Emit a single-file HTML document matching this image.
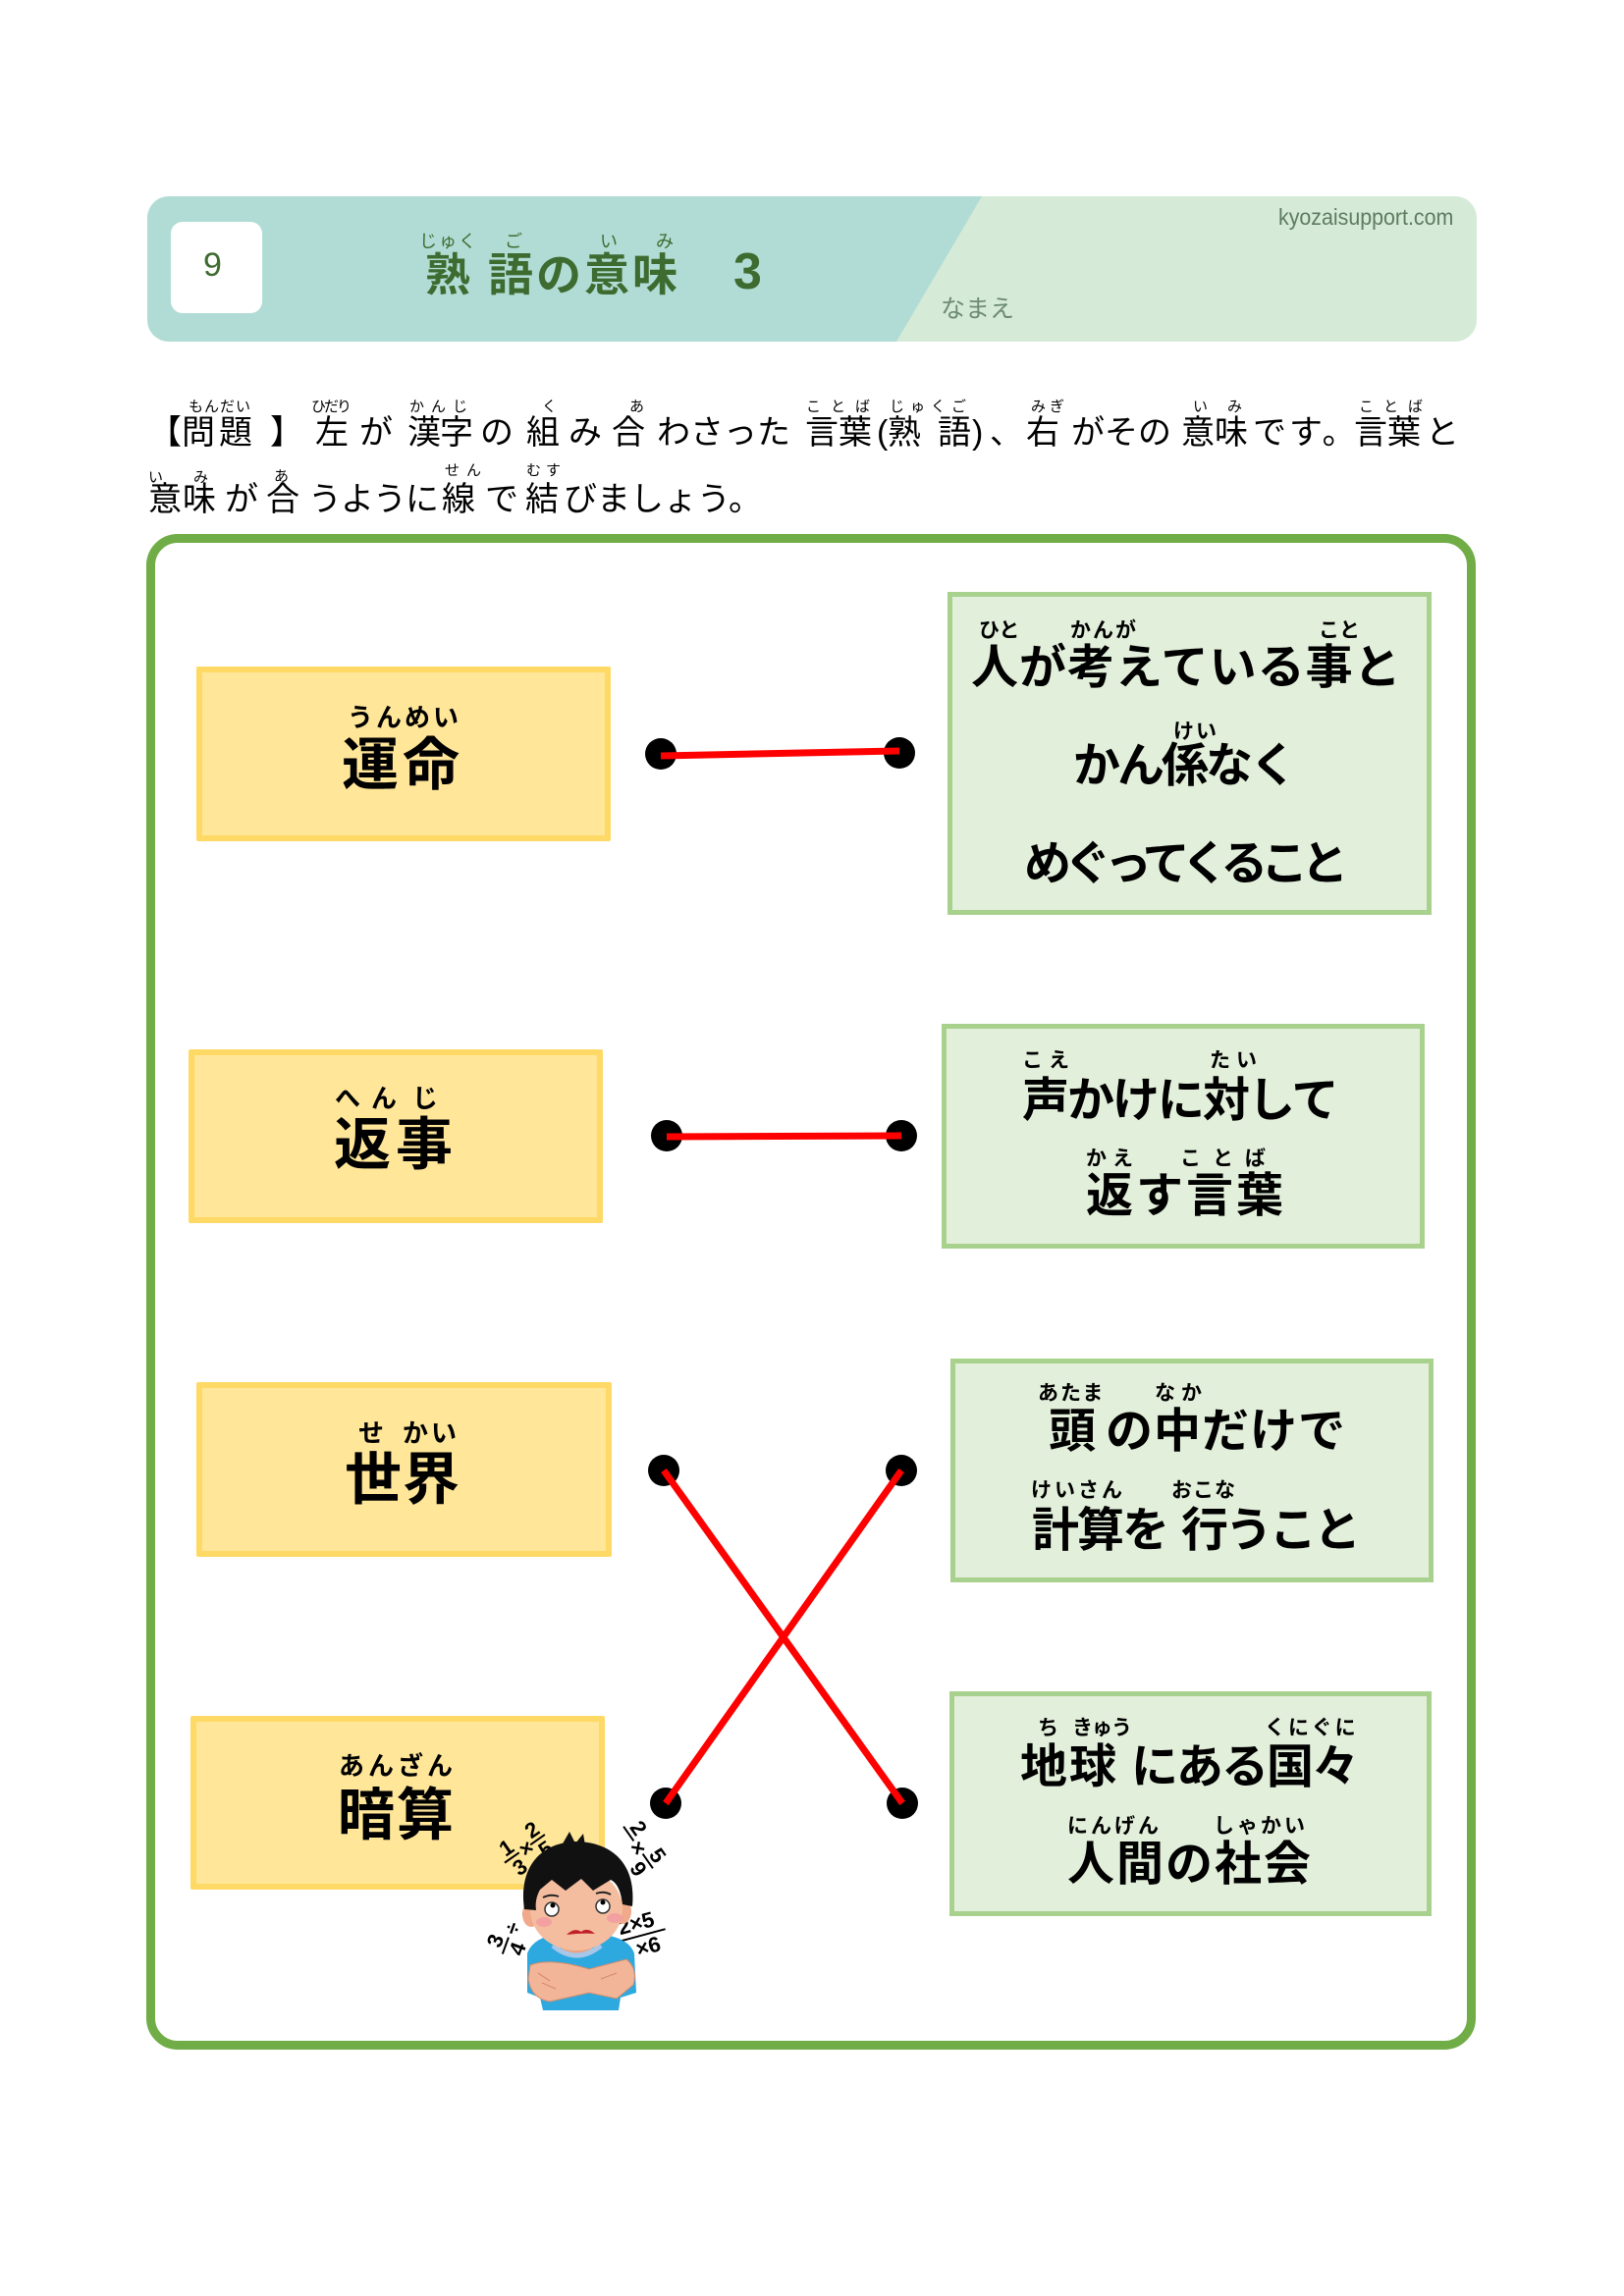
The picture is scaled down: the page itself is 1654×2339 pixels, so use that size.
<!DOCTYPE html>
<html><head><meta charset="utf-8">
<style>
body{margin:0;background:#fff}
#p{position:relative;width:1654px;height:2339px;overflow:hidden;background:#fff}
.a{position:absolute;line-height:1;white-space:nowrap;font-family:"Liberation Sans","Noto Sans CJK JP",sans-serif;color:#000}
.i{font-size:34px;font-weight:400}
.r{font-size:15px;font-weight:400}
.b{font-size:48px;font-weight:700}
.rb{font-size:21px;font-weight:700}
.L{font-size:58px;font-weight:700}
.Lr{font-size:26px;font-weight:700}
.g{color:#3e6b30}
.yb{position:absolute;box-sizing:border-box;background:#ffe699;border:6px solid #ffd966;border-radius:2px}
.gb{position:absolute;box-sizing:border-box;background:#e2efda;border:5px solid #a9d18e}
</style></head><body><div id="p">

<!-- header banner -->
<svg style="position:absolute;left:0;top:0" width="1654" height="400">
<defs><clipPath id="bc"><rect x="150" y="200" width="1354" height="148" rx="22" ry="22"/></clipPath></defs>
<g clip-path="url(#bc)">
<rect x="150" y="200" width="1354" height="148" fill="#d5ead7"/>
<polygon points="150,200 1000,200 913,348 150,348" fill="#b1dcd5"/>
</g>
<rect x="174" y="226" width="93" height="93" rx="12" ry="12" fill="#fff"/>
</svg>
<div class="a g" style="left:207px;top:253px;font-size:34px">9</div>
<div class="a g" style="left:427px;top:237px;font-size:18px;letter-spacing:2px">じゅく</div>
<div class="a g" style="left:514px;top:237px;font-size:18px">ご</div>
<div class="a g" style="left:611px;top:237px;font-size:18px">い</div>
<div class="a g" style="left:668px;top:237px;font-size:18px">み</div>
<div class="a g" style="left:433px;top:257px;font-size:46px;font-weight:700">熟</div>
<div class="a g" style="left:497px;top:257px;font-size:46px;font-weight:700;letter-spacing:3px">語の意味</div>
<div class="a g" style="left:747px;top:251px;font-size:52px;font-weight:700">3</div>
<div class="a" style="left:1302px;top:210px;font-size:23px;color:#5e7b62;transform:scaleX(0.93);transform-origin:left top">kyozaisupport.com</div>
<div class="a" style="left:958px;top:303px;font-size:25px;color:#6d8a75">なまえ</div>

<!-- instructions ruby line 1 -->
<div class="a r" style="left:192px;top:407px;letter-spacing:1px">もんだい</div>
<div class="a r" style="left:317px;top:407px;letter-spacing:-2px">ひだり</div>
<div class="a r" style="left:417px;top:407px;letter-spacing:7px">かんじ</div>
<div class="a r" style="left:552px;top:407px">く</div>
<div class="a r" style="left:641px;top:407px">あ</div>
<div class="a r" style="left:821px;top:407px;letter-spacing:10px">ことば</div>
<div class="a r" style="left:906px;top:407px;letter-spacing:6px">じゅくご</div>
<div class="a r" style="left:1050px;top:407px;letter-spacing:4px">みぎ</div>
<div class="a r" style="left:1215px;top:407px;letter-spacing:20px">いみ</div>
<div class="a r" style="left:1384px;top:407px;letter-spacing:10px">ことば</div>
<!-- instructions line 1 -->
<div class="a i" style="left:151px;top:424px">【</div>
<div class="a i" style="left:185px;top:424px;letter-spacing:4px">問題</div>
<div class="a i" style="left:275px;top:424px">】</div>
<div class="a i" style="left:321px;top:424px">左</div>
<div class="a i" style="left:366px;top:424px">が</div>
<div class="a i" style="left:415px;top:424px;letter-spacing:-1px">漢字</div>
<div class="a i" style="left:489px;top:424px">の</div>
<div class="a i" style="left:536px;top:424px">組</div>
<div class="a i" style="left:579px;top:424px">み</div>
<div class="a i" style="left:623px;top:424px">合</div>
<div class="a i" style="left:669px;top:424px">わさった</div>
<div class="a i" style="left:820px;top:424px">言葉</div>
<div class="a i" style="left:893px;top:424px">(</div>
<div class="a i" style="left:904px;top:424px">熟</div>
<div class="a i" style="left:955px;top:424px">語</div>
<div class="a i" style="left:990px;top:424px">)</div>
<div class="a i" style="left:1008px;top:424px">、</div>
<div class="a i" style="left:1045px;top:424px">右</div>
<div class="a i" style="left:1091px;top:424px">がその</div>
<div class="a i" style="left:1203px;top:424px">意味</div>
<div class="a i" style="left:1276px;top:424px;letter-spacing:3px">です。</div>
<div class="a i" style="left:1379px;top:424px">言葉</div>
<div class="a i" style="left:1452px;top:424px">と</div>
<!-- instructions ruby line 2 -->
<div class="a r" style="left:151px;top:479px">い</div>
<div class="a r" style="left:197px;top:479px">み</div>
<div class="a r" style="left:279px;top:478px">あ</div>
<div class="a r" style="left:453px;top:472px;letter-spacing:7px">せん</div>
<div class="a r" style="left:536px;top:472px;letter-spacing:5px">むす</div>
<!-- instructions line 2 -->
<div class="a i" style="left:151px;top:492px;letter-spacing:1px">意味</div>
<div class="a i" style="left:229px;top:492px">が</div>
<div class="a i" style="left:271px;top:492px">合</div>
<div class="a i" style="left:314px;top:492px;letter-spacing:-1px">うように</div>
<div class="a i" style="left:450px;top:492px">線</div>
<div class="a i" style="left:494px;top:492px">で</div>
<div class="a i" style="left:535px;top:492px">結</div>
<div class="a i" style="left:574px;top:492px">びましょう。</div>

<!-- outer frame -->
<div style="position:absolute;left:149px;top:544px;width:1354px;height:1544px;box-sizing:border-box;border:9px solid #70ad47;border-radius:32px"></div>

<!-- left yellow boxes -->
<div class="yb" style="left:200px;top:679px;width:422px;height:178px"></div>
<div class="yb" style="left:192px;top:1069px;width:422px;height:177px"></div>
<div class="yb" style="left:200px;top:1408px;width:423px;height:178px"></div>
<div class="yb" style="left:194px;top:1748px;width:422px;height:177px"></div>

<div class="a Lr" style="left:354px;top:718px;letter-spacing:3px">うんめい</div>
<div class="a L" style="left:348px;top:751px;letter-spacing:4px">運命</div>
<div class="a Lr" style="left:341px;top:1106px">へ</div>
<div class="a Lr" style="left:378px;top:1106px">ん</div>
<div class="a Lr" style="left:420px;top:1106px">じ</div>
<div class="a L" style="left:340px;top:1138px;letter-spacing:5px">返事</div>
<div class="a Lr" style="left:365px;top:1447px">せ</div>
<div class="a Lr" style="left:410px;top:1447px;letter-spacing:3px">かい</div>
<div class="a L" style="left:351px;top:1479px;letter-spacing:1px">世界</div>
<div class="a Lr" style="left:345px;top:1786px;letter-spacing:4px">あんざん</div>
<div class="a L" style="left:344px;top:1821px;letter-spacing:2px">暗算</div>

<!-- right green boxes -->
<div class="gb" style="left:965px;top:603px;width:493px;height:329px"></div>
<div class="gb" style="left:959px;top:1043px;width:492px;height:229px"></div>
<div class="gb" style="left:968px;top:1384px;width:492px;height:228px"></div>
<div class="gb" style="left:967px;top:1723px;width:491px;height:229px"></div>

<!-- row1 text -->
<div class="a rb" style="left:997px;top:632px">ひと</div>
<div class="a rb" style="left:1090px;top:632px;letter-spacing:2px">かんが</div>
<div class="a rb" style="left:1343px;top:632px">こと</div>
<div class="a b" style="left:989px;top:657px;letter-spacing:1px">人が考えている事と</div>
<div class="a rb" style="left:1195px;top:735px;letter-spacing:2px">けい</div>
<div class="a b" style="left:1093px;top:757px;letter-spacing:-3px">かん係なく</div>
<div class="a b" style="left:1043px;top:857px;letter-spacing:-7px">めぐってくること</div>
<!-- row2 text -->
<div class="a rb" style="left:1041px;top:1070px;letter-spacing:6px">こえ</div>
<div class="a rb" style="left:1232px;top:1070px;letter-spacing:6px">たい</div>
<div class="a b" style="left:1041px;top:1098px;letter-spacing:-2px">声かけに対して</div>
<div class="a rb" style="left:1106px;top:1170px;letter-spacing:6px">かえ</div>
<div class="a rb" style="left:1202px;top:1170px;letter-spacing:12px">ことば</div>
<div class="a b" style="left:1106px;top:1195px;letter-spacing:3px">返す言葉</div>
<!-- row3 text -->
<div class="a rb" style="left:1057px;top:1409px;letter-spacing:2px">あたま</div>
<div class="a rb" style="left:1176px;top:1409px;letter-spacing:6px">なか</div>
<div class="a b" style="left:1068px;top:1435px">頭</div>
<div class="a b" style="left:1126px;top:1435px;letter-spacing:1px">の中だけで</div>
<div class="a rb" style="left:1050px;top:1508px;letter-spacing:3px">けいさん</div>
<div class="a rb" style="left:1193px;top:1508px;letter-spacing:1px">おこな</div>
<div class="a b" style="left:1051px;top:1536px;letter-spacing:-2px">計算を</div>
<div class="a b" style="left:1203px;top:1536px;letter-spacing:-3px">行うこと</div>
<!-- row4 text -->
<div class="a rb" style="left:1057px;top:1750px">ち</div>
<div class="a rb" style="left:1092px;top:1750px;letter-spacing:-1px">きゅう</div>
<div class="a rb" style="left:1288px;top:1750px;letter-spacing:3px">くにぐに</div>
<div class="a b" style="left:1039px;top:1777px;letter-spacing:2px">地球</div>
<div class="a b" style="left:1152px;top:1777px;letter-spacing:-2px">にある国々</div>
<div class="a rb" style="left:1087px;top:1850px;letter-spacing:3px">にんげん</div>
<div class="a rb" style="left:1236px;top:1850px;letter-spacing:3px">しゃかい</div>
<div class="a b" style="left:1087px;top:1876px;letter-spacing:2px">人間の社会</div>

<!-- connectors, dots, illustration -->
<svg style="position:absolute;left:0;top:0" width="1654" height="2339">
<g fill="#000">
<circle cx="673" cy="768" r="16"/><circle cx="916" cy="767" r="16"/>
<circle cx="679" cy="1157" r="16"/><circle cx="918" cy="1157" r="16"/>
<circle cx="676" cy="1498" r="16"/><circle cx="918" cy="1498" r="16"/>
<circle cx="678" cy="1837" r="16"/><circle cx="919" cy="1837" r="16"/>
</g>
<g stroke="#ff0000" stroke-width="7" stroke-linecap="butt">
<line x1="673" y1="770" x2="916" y2="765"/>
<line x1="679" y1="1158" x2="918" y2="1157"/>
<line x1="676" y1="1498" x2="919" y2="1837"/>
<line x1="918" y1="1498" x2="678" y2="1837"/>
</g>

<!-- boy -->
<g font-family="Liberation Sans, sans-serif" font-weight="700" font-size="22" fill="#000">
<g transform="translate(532,1885) rotate(-35)">
<text x="-18" y="-4">1</text><line x1="-22" y1="0" x2="-4" y2="0" stroke="#000" stroke-width="2"/><text x="-18" y="20">3</text>
<text x="-2" y="8">×</text>
<text x="14" y="-4">2</text><line x1="10" y1="0" x2="28" y2="0" stroke="#000" stroke-width="2"/><text x="14" y="20">5</text>
</g>
<g transform="translate(650,1882) rotate(55)">
<text x="-22" y="-4">2</text><line x1="-26" y1="0" x2="-8" y2="0" stroke="#000" stroke-width="2"/>
<text x="-6" y="8">×</text>
<text x="12" y="-4">5</text><line x1="8" y1="0" x2="26" y2="0" stroke="#000" stroke-width="2"/><text x="12" y="20">9</text>
</g>
<g transform="translate(520,1968) rotate(-70)">
<text x="-20" y="-4">3</text><line x1="-24" y1="0" x2="-6" y2="0" stroke="#000" stroke-width="2"/><text x="-20" y="20">4</text>
<text x="-2" y="8">÷</text>
<text x="16" y="20">1</text>
</g>
<g transform="translate(652,1970) rotate(-15)">
<text x="-20" y="-4">2×5</text><line x1="-22" y1="2" x2="26" y2="2" stroke="#000" stroke-width="2"/><text x="-8" y="22">×6</text>
</g>
</g>
<path d="M537,1990 Q543,1973 570,1970 L605,1970 Q640,1972 646,1990 L648,2030 L632,2035 L630,2048 L553,2048 L550,2035 L537,2030 Z" fill="#2ea9df"/>
<rect x="572" y="1970" width="31" height="20" fill="#e8a484"/>
<path d="M563,1982 Q587,2002 612,1982" stroke="#a7c6e8" stroke-width="5" fill="none"/>
<ellipse cx="541" cy="1950" rx="9" ry="13" fill="#f0a98a"/>
<ellipse cx="634" cy="1947" rx="9" ry="13" fill="#f0a98a"/>
<ellipse cx="587" cy="1945" rx="47" ry="42" fill="#f5bd9f"/>
<path d="M534,1945 C528,1905 548,1878 585,1876 C625,1876 648,1900 644,1942 L634,1940 C632,1925 628,1918 622,1915 L604,1926 L592,1914 L576,1926 L562,1915 L550,1925 C546,1932 545,1940 546,1946 Z" fill="#111"/>
<path d="M572,1880 L580,1866 L586,1878 L594,1868 L596,1880 Z" fill="#111"/>
<circle cx="562" cy="1945" r="7" fill="#fff" stroke="#333" stroke-width="1.5"/>
<circle cx="614" cy="1942" r="7" fill="#fff" stroke="#333" stroke-width="1.5"/>
<circle cx="563" cy="1941" r="2.5" fill="#000"/><circle cx="614" cy="1938" r="2.5" fill="#000"/>
<path d="M553,1933 Q561,1929 569,1932" stroke="#222" stroke-width="2" fill="none"/>
<path d="M607,1929 Q615,1926 622,1930" stroke="#222" stroke-width="2" fill="none"/>
<ellipse cx="554" cy="1958" rx="8" ry="5" fill="#f29aa0" opacity="0.8"/>
<ellipse cx="626" cy="1954" rx="8" ry="5" fill="#f29aa0" opacity="0.8"/>
<path d="M577,1971 Q585,1963 592,1968 Q598,1963 606,1970 Q592,1969 577,1971 Z" fill="#c0202a"/>
<path d="M540,2002 Q560,1994 600,2006 L638,1996 Q650,2006 645,2022 L628,2036 L600,2030 L560,2039 Q541,2036 538,2016 Z" fill="#f3b597" stroke="#d48c6e" stroke-width="1"/>
<path d="M548,2010 L560,2018 M552,2020 L566,2026 M612,2016 L628,2010" stroke="#d48c6e" stroke-width="1.2" fill="none"/>
</svg>

</div></body></html>
